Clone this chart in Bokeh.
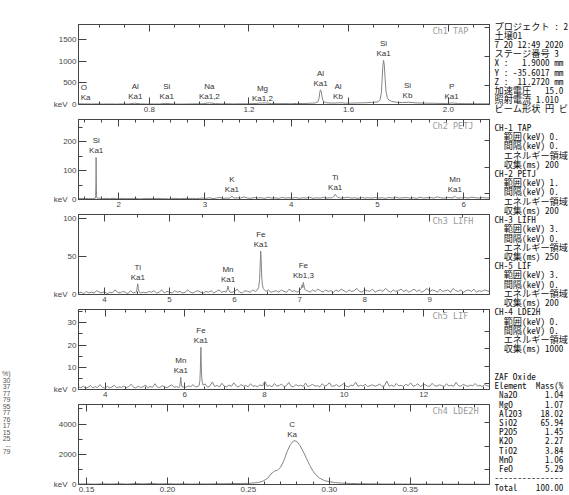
from bokeh.plotting import figure
from bokeh.models import (Range1d, LinearAxis, SingleIntervalTicker, FixedTicker,
                          PrintfTickFormatter, BasicTickFormatter, Label, LabelSet,
                          ColumnDataSource)
from bokeh.layouts import row, column
from bokeh.core.properties import value
from bokeh.embed import file_html
from bokeh.resources import INLINE

# ---------------------------------------------------------------- spectra
# Each channel: uniform background scan (start keV, step keV, counts)
# plus finer-sampled peak clusters (keV list, counts list).

CH1_START, CH1_STEP = 0.516, 0.025
CH1_BASE = [18, 14, 12, 15, 11, 13, 10, 14, 12, 30,
            15, 11, 13, 12, 26, 14, 10, 12, 14, 16,
            18, 38, 20, 15, 17, 14, 18, 16, 20, 30,
            36, 22, 19, 21, 18, 24, 22, 28, 36, 40,
            38, 32, 40, 30, 33, 36, 40, 48, 60, 70,
            65, 52, 44, 52, 38, 33, 30, 28, 25, 24,
            34, 22, 20, 19, 18, 17, 17]
CH1_AL_KEV = [1.468, 1.476, 1.481, 1.484, 1.487, 1.490, 1.493, 1.497, 1.503, 1.512, 1.520]
CH1_AL_CNT = [38, 60, 140, 280, 340, 300, 180, 90, 55, 40, 36]
CH1_SI_KEV = [1.718, 1.726, 1.731, 1.734, 1.737, 1.740, 1.743, 1.746, 1.750, 1.755, 1.762, 1.772, 1.785]
CH1_SI_CNT = [62, 110, 260, 560, 880, 1020, 920, 600, 300, 160, 100, 72, 58]

CH2_START, CH2_STEP = 1.535, 0.04
CH2_BASE = [4, 3, 4, 3, 3, 4, 5, 3, 4, 3, 4, 3,
            3, 4, 3, 3, 4, 3, 2, 3, 4, 3, 3, 4, 3, 3, 2, 3, 4, 3, 3, 4, 3, 4, 3, 4, 5,
            4, 6, 3, 5, 7, 4, 5, 8, 4, 6, 5, 9, 5, 4, 7, 5, 6, 4, 8, 5, 6, 4, 7, 5, 6,
            5, 7, 4, 6, 5, 8, 4, 6, 5, 7, 5, 6, 4, 7, 5, 6, 8, 5, 6, 4, 7, 5, 6, 5, 7,
            5, 6, 4, 7, 5, 8, 5, 6, 7, 5, 6, 4, 8, 5, 6, 7, 5, 9, 6, 5, 7, 6, 8, 5, 6,
            7, 5, 8, 6, 5, 7, 6, 5]
CH2_SI_KEV = [1.728, 1.734, 1.737, 1.739, 1.741, 1.743, 1.746, 1.752]
CH2_SI_CNT = [4, 12, 60, 145, 90, 30, 8, 4]
CH2_K_KEV = [3.29, 3.305, 3.314, 3.323, 3.34]
CH2_K_CNT = [5, 9, 12, 8, 5]
CH2_TI_KEV = [4.48, 4.50, 4.511, 4.522, 4.54, 4.56]
CH2_TI_CNT = [6, 12, 18, 13, 8, 6]
CH2_MN_KEV = [5.88, 5.895, 5.905, 5.92]
CH2_MN_CNT = [6, 12, 10, 6]

CH3_START, CH3_STEP = 3.60, 0.04
CH3_BASE = [2, 3, 1, 4, 2, 3, 2, 5, 3, 2, 4, 1, 3, 2, 6, 3, 2, 4, 3, 1, 5, 2, 3, 4, 2,
            3, 2, 4, 3, 5, 2, 3, 6, 2, 4, 3, 2, 5, 3, 4, 2, 3, 6, 3, 2, 4, 5, 3, 2, 4,
            3, 5, 2, 4, 6, 3, 4, 2, 5, 3, 4, 7, 3, 2, 5, 4, 3, 6, 4, 3, 5, 2, 4, 6, 3,
            4, 5, 3, 6, 4, 3, 7, 4, 5, 3, 6, 8, 4, 5, 3, 6, 4, 7, 5, 3, 6, 4, 5, 3, 6,
            4, 7, 5, 3, 6, 4, 5, 8, 4, 3, 6, 5, 4, 7, 3, 5, 6, 4, 8, 5, 3, 6, 4, 5, 7,
            4, 6, 3, 5, 7, 4, 6, 3, 5, 8, 4, 6, 5, 3, 7, 4, 5, 6, 3, 8, 5, 4, 6, 3, 5,
            6, 4, 7, 3, 5, 4, 6, 5, 4]
CH3_TI_KEV = [4.49, 4.502, 4.511, 4.52, 4.535]
CH3_TI_CNT = [3, 9, 14, 8, 3]
CH3_MN_KEV = [5.87, 5.888, 5.899, 5.91, 5.93]
CH3_MN_CNT = [3, 7, 11, 6, 3]
CH3_FEA_KEV = [6.34, 6.37, 6.385, 6.395, 6.402, 6.408, 6.415, 6.425, 6.44, 6.47]
CH3_FEA_CNT = [5, 9, 20, 42, 57, 48, 28, 14, 8, 5]
CH3_FEB_KEV = [7.00, 7.025, 7.04, 7.05, 7.058, 7.068, 7.08, 7.10]
CH3_FEB_CNT = [5, 8, 13, 9, 16, 11, 7, 5]

CH5_START, CH5_STEP = 3.33, 0.06
CH5_BASE = [1.2, 0.8, 1.5, 0.6, 1.0, 1.8, 0.7, 1.3, 0.9, 2.2, 1.0, 0.6, 1.4, 0.8, 1.1, 1.9, 0.7, 1.2, 0.9, 1.6, 0.8, 1.3, 2.4, 1.0, 0.7,
            1.5, 0.9, 1.2, 2.0, 0.8, 1.4, 1.0, 2.6, 1.1, 0.9, 1.7, 1.2, 0.8, 1.5, 2.1, 1.0, 1.3, 0.9, 1.8, 1.2, 1.0, 1.6, 1.3, 2.2, 1.1,
            1.4, 1.8, 1.2, 2.5, 1.0, 1.6, 3.4, 1.3, 1.9, 1.1, 2.8, 1.5, 1.2, 2.0, 1.4, 3.0, 1.6, 1.1, 2.3, 1.5, 1.8, 1.2, 2.6, 1.4, 1.7,
            1.3, 2.1, 1.6, 3.6, 1.4, 1.9, 1.2, 2.7, 1.5, 1.8, 2.4, 1.3, 1.7, 3.2, 1.5, 1.2, 2.2, 1.6, 1.9, 1.4, 2.9, 1.3, 1.8, 2.3, 1.5,
            1.7, 1.2, 2.6, 1.5, 1.9, 3.1, 1.4, 1.6, 2.2, 1.3, 1.8, 2.7, 1.5, 1.2, 2.0, 1.7, 3.3, 1.4, 1.9, 1.6, 2.4, 1.3, 1.7, 2.1, 1.5,
            1.8, 2.5, 1.4, 1.6, 3.8, 1.5, 2.0, 1.3, 2.7, 1.6, 1.9, 1.4, 2.3, 1.7, 3.0, 1.5, 1.8, 2.6, 1.3, 1.9, 2.2, 1.6, 1.4, 2.8, 1.7,
            1.5, 2.1, 1.8, 1.3, 2.6, 1.6, 1.9, 1.4, 3.2, 1.7, 1.5, 2.3, 1.8, 1.4, 2.0, 1.6, 2.7, 1.5, 1.9, 1.3, 2.2, 1.7, 1.5]
CH5_MN_KEV = [5.87, 5.885, 5.899, 5.912, 5.93]
CH5_MN_CNT = [1.2, 3.0, 5.5, 2.5, 1.2]
CH5_FE_KEV = [6.36, 6.378, 6.39, 6.398, 6.404, 6.41, 6.42, 6.435, 6.455]
CH5_FE_CNT = [1.8, 4.0, 9.0, 16.0, 19.0, 13.0, 7.0, 3.5, 2.0]

CH4_START, CH4_STEP = 0.145, 0.005
CH4_BASE = [30, 40, 25, 45, 35, 50, 30, 60, 45, 70,
            40, 55, 35, 45, 30, 40, 35, 45, 50, 60,
            65, 80, 100, 200, 800, 1100, 2500, 2850, 1900, 880,
            350, 180, 110, 85, 65, 55, 45, 40, 35, 30,
            30, 28, 25, 25, 22, 22, 20, 20, 20, 18,
            18, 18]
CH4_C_KEV = [0.252, 0.256, 0.259, 0.262, 0.264, 0.266, 0.268, 0.270, 0.272, 0.274,
             0.276, 0.278, 0.280, 0.282, 0.284, 0.286, 0.288, 0.290, 0.292, 0.294,
             0.297, 0.300, 0.304, 0.308, 0.313, 0.318, 0.324, 0.330]
CH4_C_CNT = [90, 130, 220, 420, 700, 880, 950, 1150, 1600, 2200,
             2650, 2900, 2850, 2550, 2150, 1700, 1250, 880, 600, 420,
             260, 180, 120, 90, 70, 55, 45, 40]

# characteristic-line markers: (element, line, keV)
CH1_LINES = [("O", "Ka", 0.525), ("Al", "Ka1", 0.744), ("Si", "Ka1", 0.870),
             ("Na", "Ka1,2", 1.041), ("Mg", "Ka1,2", 1.254), ("Al", "Ka1", 1.487),
             ("Al", "Kb", 1.557), ("Si", "Ka1", 1.740), ("Si", "Kb", 1.836),
             ("P", "Ka1", 2.013)]
CH2_LINES = [("Si", "Ka1", 1.740), ("K", "Ka1", 3.314), ("Ti", "Ka1", 4.511),
             ("Mn", "Ka1", 5.899)]
CH3_LINES = [("Ti", "Ka1", 4.511), ("Mn", "Ka1", 5.899), ("Fe", "Ka1", 6.404),
             ("Fe", "Kb1,3", 7.058)]
CH5_LINES = [("Mn", "Ka1", 5.899), ("Fe", "Ka1", 6.404)]
CH4_LINES = [("C", "Ka", 0.277)]

# -------------------------------------------------------------- side texts
INFO_LINES = [
    "プロジェクト : 2", "土壌01", "7 20 12:49 2020", "ステージ番号 3",
    "X :   1.9000 mm", "Y : -35.6017 mm", "Z :  11.2720 mm",
    "加速電圧   15.0", "照射電流 1.010", "ビーム形状 円 ビ",
    "",
    "CH-1 TAP", "  範囲(keV) 0.", "  間隔(keV) 0.", "  エネルギー領域", "  収集(ms) 200",
    "CH-2 PETJ", "  範囲(keV) 1.", "  間隔(keV) 0.", "  エネルギー領域", "  収集(ms) 200",
    "CH-3 LIFH", "  範囲(keV) 3.", "  間隔(keV) 0.", "  エネルギー領域", "  収集(ms) 250",
    "CH-5 LIF", "  範囲(keV) 3.", "  間隔(keV) 0.", "  エネルギー領域", "  収集(ms) 200",
    "CH-4 LDE2H", "  範囲(keV) 0.", "  間隔(keV) 0.", "  エネルギー領域", "  収集(ms) 1000",
    "", "",
    "ZAF Oxide", "Element  Mass(%",
    " Na2O      1.04", " MgO       1.07", " Al2O3    18.02", " SiO2     65.94",
    " P2O5      1.45", " K2O       2.27", " TiO2      3.84", " MnO       1.06",
    " FeO       5.29", "---------------", "Total    100.00",
]
EDGE_LINES = ["%)", "30", "37", "77", "79", "95", "77", "76", "17", "15", "25", "--", "79"]

PANELS = [
    dict(name="Ch1 TAP", start=CH1_START, step=CH1_STEP, base=CH1_BASE,
         peaks=[(CH1_AL_KEV, CH1_AL_CNT), (CH1_SI_KEV, CH1_SI_CNT)],
         lines=CH1_LINES, tol=0.012, xr=(0.516, 2.165), yr=(0, 1850),
         xint=0.4, xminor=4, xfmt="%.1f", yint=500, yminor=0,
         rticks=[0.24, 0.60, 0.96]),
    dict(name="Ch2 PETJ", start=CH2_START, step=CH2_STEP, base=CH2_BASE,
         peaks=[(CH2_SI_KEV, CH2_SI_CNT), (CH2_K_KEV, CH2_K_CNT),
                (CH2_TI_KEV, CH2_TI_CNT), (CH2_MN_KEV, CH2_MN_CNT)],
         lines=CH2_LINES, tol=0.03, xr=(1.535, 6.30), yr=(0, 276),
         xint=1, xminor=5, xfmt="%d", yint=100, yminor=2,
         rticks=[0.07, 0.40, 0.74]),
    dict(name="Ch3 LIFH", start=CH3_START, step=CH3_STEP, base=CH3_BASE,
         peaks=[(CH3_TI_KEV, CH3_TI_CNT), (CH3_MN_KEV, CH3_MN_CNT),
                (CH3_FEA_KEV, CH3_FEA_CNT), (CH3_FEB_KEV, CH3_FEB_CNT)],
         lines=CH3_LINES, tol=0.03, xr=(3.60, 9.92), yr=(0, 105),
         xint=1, xminor=2, xfmt="%d", yint=50, yminor=0,
         rticks=[0.45]),
    dict(name="Ch5 LIF", start=CH5_START, step=CH5_STEP, base=CH5_BASE,
         peaks=[(CH5_MN_KEV, CH5_MN_CNT), (CH5_FE_KEV, CH5_FE_CNT)],
         lines=CH5_LINES, tol=0.03, xr=(3.33, 13.65), yr=(0, 36),
         xint=2, xminor=4, xfmt="%d", yint=10, yminor=2,
         rticks=[0.08, 0.29, 0.51, 0.72]),
    dict(name="Ch4 LDE2H", start=CH4_START, step=CH4_STEP, base=CH4_BASE,
         peaks=[(CH4_C_KEV, CH4_C_CNT)],
         lines=CH4_LINES, tol=0.004, xr=(0.145, 0.399), yr=(0, 5290),
         xint=0.05, xminor=5, xfmt="%.2f", yint=2000, yminor=2,
         rticks=[0.19, 0.48, 0.78]),
]

INK = "#444444"
TRACE = "#858585"
TICK_FONT = "Liberation Sans"
MONO = "'Noto Sans Mono CJK JP', 'Noto Sans CJK JP', monospace"
NBSP = "\u00a0"

LEFT_W, CHART_W, INFO_W = 14, 479, 76
BORDER_L, BORDER_R, FRAME_H = 64, 4, 80


def assemble(start, step, base, peaks):
    pts = [(start + i * step, c) for i, c in enumerate(base)]
    for kev, cnt in peaks:
        lo, hi = min(kev), max(kev)
        pts = [q for q in pts if q[0] < lo or q[0] > hi]
        pts.extend(zip(kev, cnt))
    pts.sort()
    return [q[0] for q in pts], [q[1] for q in pts]


def hide_labels(ax):
    # tick marks only: labels are not painted and take no room
    ax.major_label_text_color = None
    ax.major_label_text_font_size = "1px"
    ax.major_label_standoff = 0


def make_panel(spec, top_b, bottom_b):
    p = figure(width=CHART_W, height=top_b + FRAME_H + bottom_b,
               x_range=Range1d(*spec["xr"]), y_range=Range1d(*spec["yr"]),
               x_axis_location=None, y_axis_location=None,
               toolbar_location=None, output_backend="svg",
               min_border_left=BORDER_L, min_border_right=BORDER_R,
               min_border_top=top_b, min_border_bottom=bottom_b)
    p.grid.visible = False
    p.outline_line_color = INK
    p.background_fill_color = "white"
    p.border_fill_color = "white"

    def xaxis(labels):
        ax = LinearAxis(ticker=SingleIntervalTicker(interval=spec["xint"],
                                                    num_minor_ticks=spec["xminor"]),
                        formatter=PrintfTickFormatter(format=spec["xfmt"]))
        ax.major_tick_in, ax.major_tick_out = 7, 0
        ax.minor_tick_in, ax.minor_tick_out = 3, 0
        ax.axis_line_color = INK
        ax.major_tick_line_color = INK
        ax.minor_tick_line_color = INK
        ax.major_label_text_font = TICK_FONT
        ax.major_label_text_font_size = "8px"
        ax.major_label_text_color = INK
        ax.major_label_standoff = 2
        if not labels:
            hide_labels(ax)
        return ax

    p.add_layout(xaxis(True), "below")
    p.add_layout(xaxis(False), "above")

    ly = LinearAxis(ticker=SingleIntervalTicker(interval=spec["yint"],
                                                num_minor_ticks=max(spec["yminor"], 1)),
                    formatter=BasicTickFormatter())
    ly.major_tick_in, ly.major_tick_out = 8, 0
    ly.minor_tick_in, ly.minor_tick_out = 4, 0
    ly.axis_line_color = INK
    ly.major_tick_line_color = INK
    ly.minor_tick_line_color = INK if spec["yminor"] else None
    ly.major_label_text_font = TICK_FONT
    ly.major_label_text_font_size = "8px"
    ly.major_label_text_color = INK
    ly.major_label_standoff = 2
    # the energy unit sits beside the zero count at the lower-left corner
    ly.major_label_overrides = {0: "keV" + NBSP * 2 + "0"}
    p.add_layout(ly, "left")

    p.extra_y_ranges = {"frac": Range1d(0, 1)}
    ry = LinearAxis(y_range_name="frac",
                    ticker=FixedTicker(ticks=spec["rticks"], minor_ticks=[]))
    ry.major_tick_in, ry.major_tick_out = 5, 0
    ry.axis_line_color = INK
    ry.major_tick_line_color = INK
    hide_labels(ry)
    p.add_layout(ry, "right")

    xs, ys = assemble(spec["start"], spec["step"], spec["base"], spec["peaks"])
    p.line(xs, ys, line_color=TRACE, line_width=1)

    # line markers sit just above the local trace maximum
    x0, x1 = spec["xr"]
    edge = (x1 - x0) * 6 / 411
    mk = dict(x=[], y=[], el=[], ln=[], al=[])
    for el, ln, kev in spec["lines"]:
        near = [c for x, c in zip(xs, ys) if abs(x - kev) <= spec["tol"]]
        mk["x"].append(kev)
        mk["y"].append(max(near) if near else 0)
        mk["el"].append(el)
        mk["ln"].append(ln)
        mk["al"].append("left" if kev - x0 < edge else "center")
    src = ColumnDataSource(mk)
    for col, off in (("ln", 2), ("el", 12)):
        p.add_layout(LabelSet(x="x", y="y", text=col, source=src,
                              y_offset=off, text_align="al",
                              text_baseline="bottom", text_font=value(TICK_FONT),
                              text_font_size=value("8px"), text_color="#333333"))

    p.add_layout(Label(x=354, y=FRAME_H - 1, x_units="screen", y_units="screen",
                       text=spec["name"], text_font="DejaVu Sans Mono",
                       text_font_size="8.5px", text_color="#9a9a9a",
                       text_baseline="top", text_align="left"))
    return p


def text_column(width, lines, x, y0, pitch, font, size, align, color):
    p = figure(width=width, height=495, x_range=Range1d(0, width),
               y_range=Range1d(495, 0), x_axis_location=None, y_axis_location=None,
               toolbar_location=None, output_backend="svg",
               min_border_left=0, min_border_right=0, min_border_top=0,
               min_border_bottom=0)
    p.grid.visible = False
    p.outline_line_color = None
    p.background_fill_color = "white"
    p.border_fill_color = "white"
    keep = [(i, t.replace(" ", NBSP)) for i, t in enumerate(lines) if t]
    p.text(x=[x] * len(keep), y=[y0 + i * pitch for i, _ in keep],
           text=[t for _, t in keep], text_font=value(font),
           text_font_size=value(size), text_align=align, text_baseline="middle",
           text_color=color)
    return p


charts = []
for i, spec in enumerate(PANELS):
    top_b = 24 if i == 0 else 4
    charts.append(make_panel(spec, top_b, 11))

left = text_column(LEFT_W, EDGE_LINES, 10, 373, 6.5, "Liberation Sans", "7px", "right", "#555555")
info = text_column(INFO_W, INFO_LINES, 1, 25, 9.22, MONO, "9.2px", "left", "#111111")

layout = row(left, column(*charts, spacing=0), info, spacing=0)

open("out.html", "w").write(file_html(layout, INLINE, title="WDS qualitative scan"))
